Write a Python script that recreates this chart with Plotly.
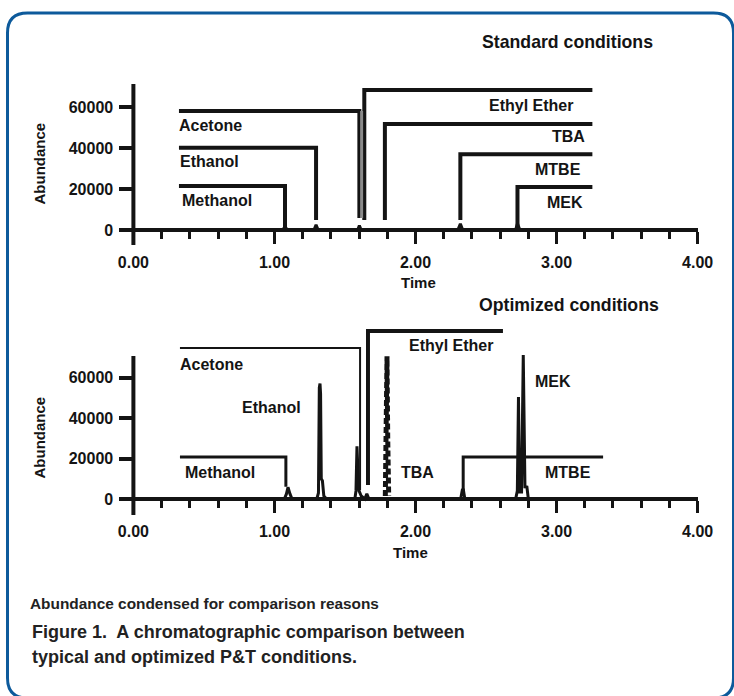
import plotly.graph_objects as go

# ---------------- data ----------------
# Standard conditions chromatogram (time [min], abundance)
std_t = [0.00, 1.06, 1.075, 1.09, 1.28, 1.295, 1.31, 1.59, 1.602, 1.615,
         2.30, 2.318, 2.335, 2.71, 2.723, 2.74, 4.00]
std_v = [0, 0, 1800, 0, 0, 2500, 0, 0, 2200, 0,
         0, 3000, 0, 0, 3200, 0, 0]

# Standard conditions label brackets
std_names = ["Methanol", "Ethanol", "Acetone", "Ethyl Ether", "TBA", "MTBE", "MEK"]
std_rt = [1.075, 1.295, 1.602, 1.637, 1.783, 2.318, 2.723]
std_level = [21500, 40100, 58000, 68300, 51700, 37000, 21000]
std_hend = [0.323, 0.323, 0.323, 3.254, 3.254, 3.254, 3.254]
std_foot = [1500, 4900, 5800, 4900, 4900, 4900, 1500]
std_lbl_t = [0.330, 0.316, 0.309, 2.508, 2.955, 2.834, 2.919]
std_lbl_v = [14600, 33200, 51200, 60500, 45400, 29300, 13200]

# Optimized conditions chromatogram
opt_t = [0.00, 1.07, 1.085, 1.096, 1.11, 1.125, 1.30, 1.312, 1.318, 1.323,
         1.327, 1.332, 1.34, 1.35, 1.37, 1.57, 1.578, 1.585, 1.592, 1.60,
         1.615, 1.64, 1.655, 1.67, 1.78, 1.82, 2.32, 2.332, 2.338, 2.35,
         2.71, 2.722, 2.730, 2.738, 2.752, 2.764, 2.776, 2.79, 2.80, 4.00]
opt_v = [0, 0, 2500, 5800, 2500, 0, 0, 3000, 55000, 57000,
         52000, 10000, 9000, 1500, 0, 0, 4000, 26000, 14000, 4000,
         1500, 0, 2500, 0, 0, 0, 0, 4500, 5000, 0,
         0, 4000, 50400, 3500, 3500, 71100, 6000, 5900, 0, 0]
# TBA peak (dotted trace in the optimized run)
tba_t = [1.786, 1.793, 1.798, 1.803, 1.81]
tba_v = [1500, 30000, 70500, 30000, 1500]

# Optimized conditions label brackets
opt_br_names = ["Methanol", "Acetone", "Ethyl Ether", "MTBE"]
opt_br_rt = [1.081, 1.607, 1.663, 2.338]
opt_br_level = [20700, 74600, 83000, 20700]
opt_br_hend = [0.33, 0.33, 2.62, 3.33]
opt_br_foot = [6000, 4400, 6900, 3000]
opt_names = ["Methanol", "Ethanol", "Acetone", "Ethyl Ether", "TBA", "MTBE", "MEK"]
opt_lbl_t = [0.352, 0.756, 0.316, 1.940, 1.884, 2.905, 2.834]
opt_lbl_v = [13300, 45400, 66200, 76000, 13300, 13300, 57800]

x_ticks = [0, 1, 2, 3, 4]
y_ticks = [0, 20000, 40000, 60000]

# ---------------- styling ----------------
W, H = 734, 696
FONT = "Liberation Sans, Arial, sans-serif"
INK = "#141414"
BLUE = "#0d5a9b"


def px(x):
    return x / W


def py(y):
    return 1 - y / H


fig = go.Figure()

# chromatograms
fig.add_trace(go.Scatter(x=std_t, y=std_v, mode="lines", xaxis="x", yaxis="y",
                         line=dict(color=INK, width=3), hoverinfo="skip"))
fig.add_trace(go.Scatter(x=opt_t, y=opt_v, mode="lines", xaxis="x2", yaxis="y2",
                         line=dict(color=INK, width=3), hoverinfo="skip"))
fig.add_trace(go.Scatter(x=tba_t, y=tba_v, mode="lines", xaxis="x2", yaxis="y2",
                         line=dict(color=INK, width=5, dash="6px,3px"), hoverinfo="skip"))

# bracket label lines - standard
for i in range(len(std_names)):
    fig.add_trace(go.Scatter(x=[std_hend[i], std_rt[i], std_rt[i]],
                             y=[std_level[i], std_level[i], std_foot[i]],
                             mode="lines", xaxis="x", yaxis="y",
                             line=dict(color=INK, width=4), hoverinfo="skip"))
# gray band next to acetone line (standard)
fig.add_trace(go.Scatter(x=[std_rt[2] + 0.016, std_rt[2] + 0.016],
                         y=[std_foot[2], std_level[2]], mode="lines",
                         xaxis="x", yaxis="y",
                         line=dict(color="#8a8a8a", width=3), hoverinfo="skip"))

opt_widths = [3, 2, 4, 3]
for i in range(len(opt_br_names)):
    fig.add_trace(go.Scatter(x=[opt_br_hend[i], opt_br_rt[i], opt_br_rt[i]],
                             y=[opt_br_level[i], opt_br_level[i], opt_br_foot[i]],
                             mode="lines", xaxis="x2", yaxis="y2",
                             line=dict(color=INK, width=opt_widths[i]), hoverinfo="skip"))

# axis geometry (pixels)
x_left_px, x_right_px = 119.3, 697.6
top_y0_px, top_bot_px, top_top_px = 230, 245, 84
bot_y0_px, bot_bot_px, bot_top_px = 499, 515, 320
top_scale = 20000 / 41.0
bot_scale = 20000 / 40.5

top_range = [(top_y0_px - top_bot_px) * top_scale, (top_y0_px - top_top_px) * top_scale]
bot_range = [(bot_y0_px - bot_bot_px) * bot_scale, (bot_y0_px - bot_top_px) * bot_scale]
bot_axis_top = (bot_y0_px - 356) * bot_scale

xa = dict(domain=[px(x_left_px), px(x_right_px)], range=[-0.1, 4.0],
          tickvals=x_ticks, tickformat=".2f", ticks="outside", ticklen=12,
          tickwidth=3, tickcolor=INK, showline=True, linewidth=4, linecolor=INK,
          showgrid=False, zeroline=False, anchor="free", automargin=False,
          tickfont=dict(family=FONT, size=16, color=INK, weight="bold"),
          minor=dict(dtick=0.2, tick0=0, ticks="outside", ticklen=7, tickwidth=3,
                     tickcolor=INK, showgrid=False),
          ticklabelstandoff=5, fixedrange=True)
ya = dict(tickvals=y_ticks, tickformat="d", ticks="outside", ticklen=14, tickwidth=4,
          tickcolor=INK, showline=False, showgrid=False, zeroline=False, anchor="free",
          position=px(133.4), automargin=False,
          tickfont=dict(family=FONT, size=16, color=INK, weight="bold"),
          ticklabelstandoff=3, fixedrange=True)

fig.update_layout(
    width=W, height=H, autosize=False,
    margin=dict(l=0, r=0, t=0, b=0, pad=0, autoexpand=False),
    paper_bgcolor="white", plot_bgcolor="white", showlegend=False,
    xaxis=dict(xa, position=py(top_y0_px)),
    yaxis=dict(ya, domain=[py(top_bot_px), py(top_top_px)], range=top_range),
    xaxis2=dict(xa, position=py(bot_y0_px)),
    yaxis2=dict(ya, domain=[py(bot_bot_px), py(bot_top_px)], range=bot_range),
)

shapes = []
# y-axis lines
shapes.append(dict(type="line", xref="x", yref="y", x0=0, x1=0,
                   y0=top_range[0], y1=top_range[1], line=dict(color=INK, width=4)))
shapes.append(dict(type="line", xref="x2", yref="y2", x0=0, x1=0,
                   y0=bot_range[0], y1=bot_axis_top, line=dict(color=INK, width=4)))

# rounded border
L, T, R, B, r = 7.5, 13.0, 733.5, 698.0, 20.0
path = (f"M {px(L)},{py(T + r)} Q {px(L)},{py(T)} {px(L + r)},{py(T)} "
        f"L {px(R - r)},{py(T)} Q {px(R)},{py(T)} {px(R)},{py(T + r)} "
        f"L {px(R)},{py(B - r)} Q {px(R)},{py(B)} {px(R - r)},{py(B)} "
        f"L {px(L + r)},{py(B)} Q {px(L)},{py(B)} {px(L)},{py(B - r)} Z")
shapes.append(dict(type="path", xref="paper", yref="paper", path=path,
                   line=dict(color=BLUE, width=3)))
fig.update_layout(shapes=shapes)

ann = []


def txt(text, x, y, size, xanchor="center", xref="paper", yref="paper", angle=0, color=INK):
    ann.append(dict(text=text, x=x, y=y, xref=xref, yref=yref, showarrow=False,
                    xanchor=xanchor, yanchor="middle", textangle=angle,
                    font=dict(family=FONT, size=size, color=color, weight="bold")))


for i, n in enumerate(std_names):
    txt(n, std_lbl_t[i], std_lbl_v[i], 16, "left", "x", "y")
for i, n in enumerate(opt_names):
    txt(n, opt_lbl_t[i], opt_lbl_v[i], 16, "left", "x2", "y2")

txt("Standard conditions", px(567.5), py(42), 17.7)
txt("Optimized conditions", px(569), py(305), 17.7)
txt("Time", px(418), py(283), 15)
txt("Time", px(410), py(552), 15)
txt("Abundance", px(38.5), py(164), 15, angle=-90)
txt("Abundance", px(38.5), py(438), 15, angle=-90)
txt("Abundance condensed for comparison reasons", px(28), py(603), 15.4, "left", color="#222222")
txt("Figure 1.\u00a0 A chromatographic comparison between", px(30), py(632), 18, "left", color="#222222")
txt("typical and optimized P&amp;T conditions.", px(30), py(657), 18, "left", color="#222222")

fig.update_layout(annotations=ann)
fig.write_html("out.html")
